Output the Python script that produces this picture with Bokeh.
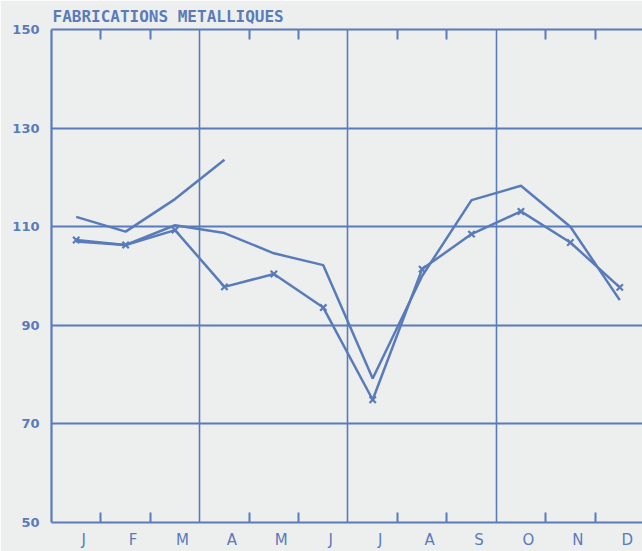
from bokeh.plotting import figure
from bokeh.models import Range1d, FixedTicker, LinearAxis
from bokeh.embed import file_html
from bokeh.resources import INLINE

months = ["J", "F", "M", "A", "M", "J", "J", "A", "S", "O", "N", "D"]
y_ticks = [50, 70, 90, 110, 130, 150]
title_text = "FABRICATIONS METALLIQUES"

# current year (ends in April)
series_current = [112.0, 109.0, 115.6, 123.6]
# previous year, plain line
series_prev = [107.0, 106.3, 110.3, 108.7, 104.6, 102.2, 79.2, 100.0, 115.4, 118.3, 110.0, 95.1]
# with x markers
series_marked = [107.3, 106.3, 109.3, 97.8, 100.4, 93.6, 74.9, 101.4, 108.5, 113.1, 106.8, 97.7]

BLUE = "#5a7bba"
BG = "#edefee"

x_all = [i + 0.5 for i in range(12)]

p = figure(width=642, height=551, output_backend="svg", toolbar_location=None,
           x_range=Range1d(0, 11.96), y_range=Range1d(50, 150),
           min_border_left=51, min_border_right=0, min_border_top=20, min_border_bottom=29,
           background_fill_color=BG, border_fill_color=BG, outline_line_color=None)

p.title.text = title_text
p.title.text_font = "DejaVu Sans Mono"
p.title.text_font_size = "16px"
p.title.text_font_style = "bold"
p.title.text_color = BLUE
p.title.align = "left"
p.title.standoff = 8
p.title.offset = 1

# grids
p.xgrid.ticker = FixedTicker(ticks=[3, 6, 9])
p.xgrid.grid_line_color = BLUE
p.xgrid.grid_line_width = 1.6
p.ygrid.ticker = FixedTicker(ticks=[70, 90, 110, 130])
p.ygrid.grid_line_color = BLUE
p.ygrid.grid_line_width = 2.2

minor = [1, 2, 4, 5, 7, 8, 10, 11]
label_pos = [i + 0.65 for i in range(12)]

xa = p.xaxis[0]
xa.ticker = FixedTicker(ticks=label_pos, minor_ticks=minor)
xa.major_label_overrides = dict(zip(label_pos, months))
xa.major_tick_line_color = None
xa.major_tick_in = 0
xa.major_tick_out = 0
xa.minor_tick_in = 10
xa.minor_tick_out = 0
xa.minor_tick_line_color = BLUE
xa.minor_tick_line_width = 2
xa.axis_line_color = BLUE
xa.axis_line_width = 2.2
xa.major_label_standoff = 8
xa.major_label_text_color = BLUE
xa.major_label_text_font = "DejaVu Sans"
xa.major_label_text_font_size = "15px"

top = LinearAxis(ticker=FixedTicker(ticks=[], minor_ticks=minor))
top.major_label_text_font_size = "0px"
top.major_tick_out = 0
top.major_tick_in = 0
top.minor_tick_in = 10
top.minor_tick_out = 0
top.minor_tick_line_color = BLUE
top.minor_tick_line_width = 2
top.axis_line_color = BLUE
top.axis_line_width = 2.2
top.major_label_standoff = 0
p.add_layout(top, "above")

ya = p.yaxis[0]
ya.ticker = FixedTicker(ticks=y_ticks)
ya.major_tick_in = 0
ya.major_tick_out = 0
ya.minor_tick_line_color = None
ya.axis_line_color = BLUE
ya.axis_line_width = 2.2
ya.major_label_standoff = 12
ya.major_label_text_color = BLUE
ya.major_label_text_font = "DejaVu Sans"
ya.major_label_text_font_style = "bold"
ya.major_label_text_font_size = "13px"

p.line(x_all[:len(series_current)], series_current, line_color=BLUE, line_width=2.5)
p.line(x_all, series_prev, line_color=BLUE, line_width=2.5)
p.line(x_all, series_marked, line_color=BLUE, line_width=2.5)
p.scatter(x_all, series_marked, marker="x", size=9, line_color=BLUE, line_width=2.2)

open("out.html", "w").write(file_html(p, INLINE))
